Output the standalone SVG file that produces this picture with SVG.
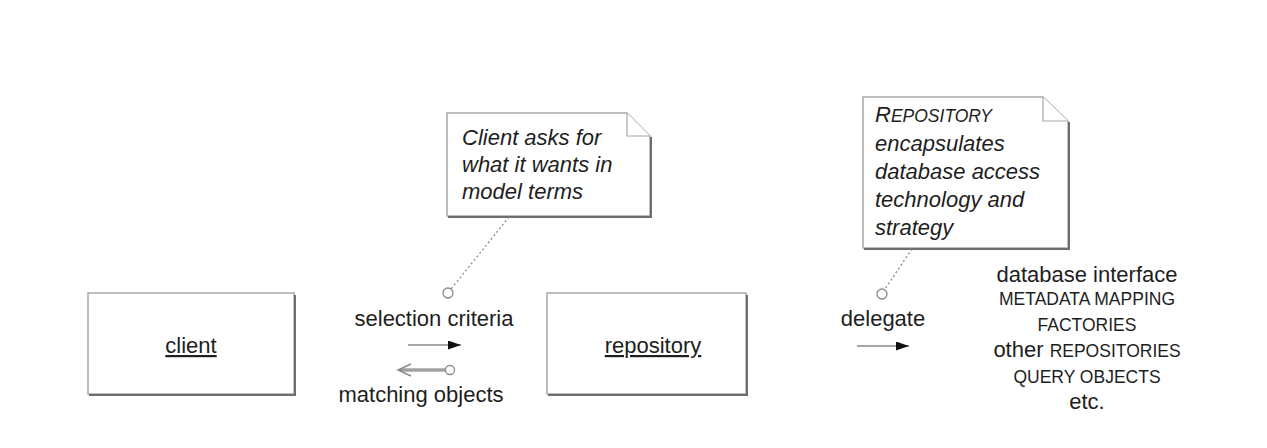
<svg xmlns="http://www.w3.org/2000/svg" width="1267" height="448" viewBox="0 0 1267 448">
<style>
.box{fill:#fff;stroke:#a8a8a8;stroke-width:1.5}
.shadow{fill:none;stroke:#6e6e6e;stroke-width:2}
.fold{fill:#fff;stroke:#a8a8a8;stroke-width:1.2}
.t{font-family:"Liberation Sans",Arial,sans-serif;font-size:22px;fill:#1e1e1e}
.c{text-anchor:middle}
.i{font-style:italic}
.sc{font-size:17.5px}
.dot{fill:none;stroke:#8a8a8a;stroke-width:1.3;stroke-dasharray:2 2.5}
.ring{fill:#fff;stroke:#8a8a8a;stroke-width:1.3}
.ln{stroke:#8a8a8a;stroke-width:1.5;fill:none}
</style>
<defs>
<marker id="fh" viewBox="0 0 13 9" refX="13" refY="4.5" markerWidth="13" markerHeight="9" markerUnits="userSpaceOnUse" orient="auto">
<path d="M0,0 L13,4.5 L0,9 Z" fill="#111"/>
</marker>
</defs>
<rect width="1267" height="448" fill="#fff"/>

<g id="client">
<rect class="box" x="88" y="293" width="206" height="101"/>
<path class="shadow" d="M89,395 H295 V295"/>
<text class="t c" x="191" y="353" text-decoration="underline">client</text>
</g>

<g id="repository">
<rect class="box" x="547" y="293" width="199" height="101"/>
<path class="shadow" d="M548,395 H747 V295"/>
<text class="t c" x="653" y="353" text-decoration="underline">repository</text>
</g>

<g id="note-client">
<path class="box" d="M447,113 H627 L650,136 V216 H447 Z"/>
<path class="fold" d="M627,113 V136 H650"/>
<path class="shadow" d="M448,217 H651 V137"/>
<text class="t i" x="462" y="145">Client asks for</text>
<text class="t i" x="462" y="172">what it wants in</text>
<text class="t i" x="462" y="199">model terms</text>
</g>

<g id="note-repository">
<path class="box" d="M863,97 H1043 L1068,121 V248 H863 Z"/>
<path class="fold" d="M1043,97 V121 H1068"/>
<path class="shadow" d="M864,249 H1069 V122"/>
<text class="t i" x="875" y="122">R<tspan class="sc">EPOSITORY</tspan></text>
<text class="t i" x="875" y="151">encapsulates</text>
<text class="t i" x="875" y="179">database access</text>
<text class="t i" x="875" y="207">technology and</text>
<text class="t i" x="875" y="235">strategy</text>
</g>

<g id="resources">
<text class="t c" x="1087" y="282">database interface</text>
<text class="t c sc" x="1087" y="305">METADATA MAPPING</text>
<text class="t c sc" x="1087" y="331">FACTORIES</text>
<text class="t c" x="1087" y="357">other <tspan class="sc">REPOSITORIES</tspan></text>
<text class="t c sc" x="1087" y="383">QUERY OBJECTS</text>
<text class="t c" x="1087" y="409">etc.</text>
</g>

<g id="connectors">
<line class="dot" x1="509" y1="217" x2="451" y2="289"/>
<circle class="ring" cx="448" cy="293" r="5"/>
<text class="t c" x="434" y="326">selection criteria</text>
<line class="ln" x1="408" y1="345" x2="461" y2="345" marker-end="url(#fh)"/>
<line x1="400" y1="370" x2="446" y2="370" stroke="#777" stroke-width="3"/>
<line x1="401" y1="370" x2="446" y2="370" stroke="#ddd" stroke-width="0.8"/>
<path class="ln" d="M411,364 L398,370 L411,376"/>
<circle class="ring" cx="450" cy="370" r="4.5"/>
<text class="t c" x="421" y="402">matching objects</text>

<line class="dot" x1="912" y1="249" x2="885" y2="289"/>
<circle class="ring" cx="882" cy="294" r="5"/>
<text class="t c" x="883" y="326">delegate</text>
<line class="ln" x1="857" y1="346" x2="909" y2="346" marker-end="url(#fh)"/>
</g>
</svg>
